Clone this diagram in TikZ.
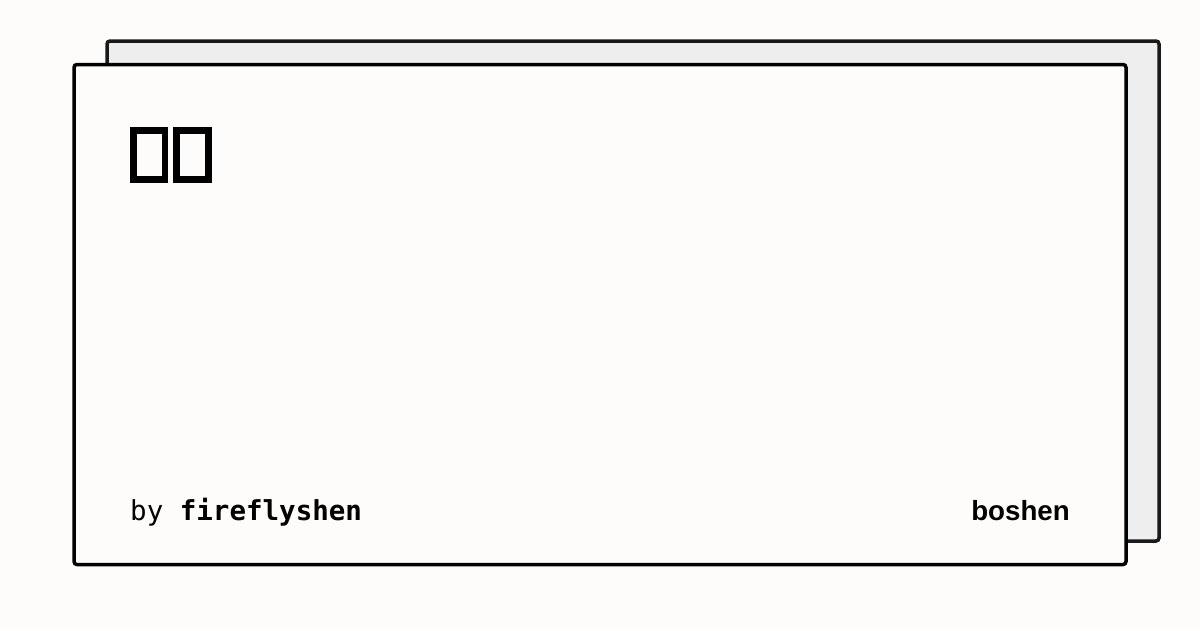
\documentclass[tikz,border=0pt]{standalone}
\usepackage{fontspec}
\newfontfamily\monofont{DejaVu Sans Mono}
\newfontfamily\labelfont{Liberation Sans}
\definecolor{paper}{HTML}{FDFCFA}
\definecolor{shade}{HTML}{EEEEEE}
\definecolor{edge}{HTML}{1A1A1A}
\begin{document}
\begin{tikzpicture}[x=1pt,y=-1pt]
		\tikzstyle{card}=[line width=3.5pt,rounded corners=3pt]
		\tikzstyle{tofu}=[draw=black,line width=6.6pt]
		\tikzstyle{byline}=[anchor=base west,inner sep=0pt,font=\monofont\fontsize{27.5}{30}\selectfont]
		\fill[paper] (0,0) rectangle (1200,630);
		\useasboundingbox (0,0) rectangle (1200,630);
		\draw[card,draw=edge,fill=shade] (107,41) rectangle (1159,541);
		\draw[card,draw=black,fill=paper] (74,64.5) rectangle (1126,564.5);
		\draw[tofu] (133.3,130.3) rectangle (165,179.5);
		\draw[tofu] (176.3,130.3) rectangle (208.5,179.5);
		\node[byline] (by) at (130,520) {by \textbf{fireflyshen}};
		\node[anchor=base east,inner sep=0pt,font=\labelfont\bfseries\fontsize{27.7}{30}\selectfont] (name) at (1070,520) {boshen};
	\end{tikzpicture}
\end{document}
